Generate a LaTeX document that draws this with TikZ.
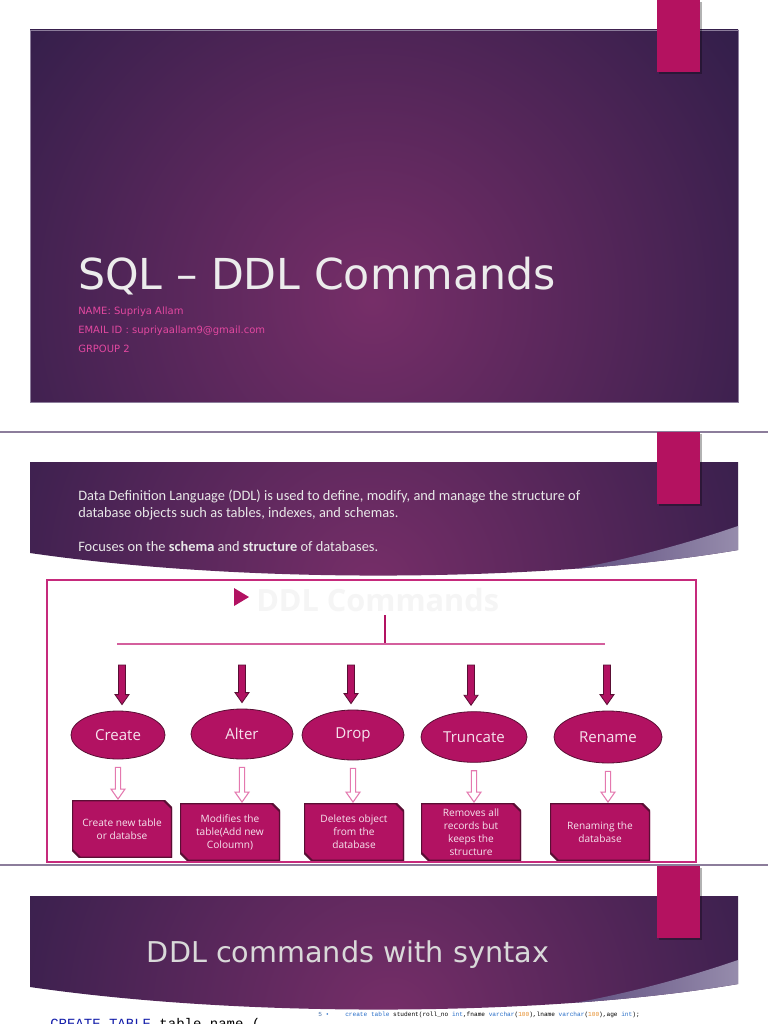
\documentclass[tikz,border=0pt]{standalone}
\usepackage{fontspec}
\setmainfont{DejaVu Sans}
\setmonofont{Liberation Mono}
\newfontfamily\bodyfont{Carlito}
\newfontfamily\shapefont{Open Sans}
\usetikzlibrary{calc,shapes.geometric}

\definecolor{deepnavy}{RGB}{32,26,66}
\definecolor{glowpurple}{RGB}{118,46,104}
\definecolor{tabpink}{RGB}{180,18,96}
\definecolor{namepink}{RGB}{226,72,160}
\definecolor{titlegrey}{RGB}{236,236,236}
\definecolor{bodygrey}{RGB}{232,232,232}
\definecolor{framepink}{RGB}{198,42,124}
\definecolor{boxpink}{RGB}{178,18,98}
\definecolor{boxedge}{RGB}{90,14,52}
\definecolor{shapetext}{RGB}{246,228,238}
\definecolor{hollowpink}{RGB}{228,120,175}
\definecolor{sepgrey}{RGB}{140,125,155}
\definecolor{wedgeleft}{RGB}{88,70,122}
\definecolor{wedgeright}{RGB}{150,140,172}
\definecolor{sqlblue}{RGB}{20,30,170}
\definecolor{kwblue}{RGB}{40,110,200}
\definecolor{numorange}{RGB}{230,140,40}

\tikzset{nameline/.style={anchor=base west, inner sep=0, text=namepink, font=\fontsize{7.5}{9}\selectfont}}
\tikzset{bodytext/.style={anchor=base west, inner sep=0, text=bodygrey, align=left, font=\bodyfont\fontsize{10.8}{12.75}\selectfont}}
\tikzset{cmd/.style={ellipse, fill=boxpink, draw=boxedge, line width=.6pt, inner sep=0, text=shapetext, font=\shapefont\fontsize{11.3}{13}\selectfont}}
\tikzset{snipbox/.style={minimum width=75pt, minimum height=43pt, inner sep=1pt, align=center, text=shapetext,
    font=\shapefont\fontsize{7.6}{9.75}\selectfont,
    path picture={\fill[boxpink, draw=boxedge, line width=1.6pt]
      (path picture bounding box.north west) -- ([xshift=-6pt]path picture bounding box.north east)
      -- ([yshift=-6pt]path picture bounding box.north east) -- (path picture bounding box.south east)
      -- ([xshift=6pt]path picture bounding box.south west) -- ([yshift=6pt]path picture bounding box.south west) -- cycle;}}}
\tikzset{blkarrow/.style={fill=boxpink, draw=boxedge, line width=.6pt}}
\tikzset{hollowarrow/.style={fill=white, draw=hollowpink, line width=.8pt}}
\tikzset{branch/.style={draw=framepink!75!white, line width=.8pt}}
\tikzset{tabshade/.style={fill=black, opacity=.3}}

% down arrow as a block: style, start, end, half shaft
\newcommand{\dnarrow}[4]{%
  \draw[#1] let \p1=(#2), \p2=(#3) in
    (\x1-#4,\y1) -- (\x1-#4,\y2+7.5pt) -- (\x1-5.25pt,\y2+7.5pt) -- (\x1,\y2)
    -- (\x1+5.25pt,\y2+7.5pt) -- (\x1+#4,\y2+7.5pt) -- (\x1+#4,\y1) -- cycle;}

% curved header band of a slide, shifted down by #1, glow at x #2
\newcommand{\slideband}[2]{%
  \begin{scope}[shift={(0,#1)}]
    \clip (30,462) -- (738,462) -- (738,550) .. controls (550,582) and (250,585) .. (30,553) -- cycle;
    \shade[inner color=glowpurple, outer color=deepnavy] (#2,585) circle (560);
    \shade[left color=wedgeleft, right color=wedgeright] (738,526) .. controls (680,546) and (610,564) .. (550,573) -- (550,600) -- (738,600) -- cycle;
  \end{scope}}

\begin{document}
\begin{tikzpicture}[x=0.75pt, y=-0.75pt]
\useasboundingbox (0,0) rectangle (768,1024);
\fill[white] (0,0) rectangle (768,1024);

% title slide
\begin{scope}
  \clip (30,30) rectangle (738,402);
  \shade[inner color=glowpurple, outer color=deepnavy] (372,300) circle (580);
\end{scope}
\draw[sepgrey, line width=.4pt] (30,30) rectangle (738,402);
\node[anchor=base west, inner sep=0, text=titlegrey, font=\fontsize{32}{38}\selectfont] (title) at (78,289) {SQL – DDL Commands};
\node[nameline] (name) at (78,314) {NAME: Supriya Allam};
\node[nameline] (email) at (78,333) {EMAIL ID : supriyaallam9@gmail.com};
\node[nameline] (group) at (78,352) {GRPOUP 2};

% page breaks
\draw[sepgrey, line width=.8pt] (0,432) -- (768,432);
\draw[sepgrey, line width=.8pt] (0,865) -- (768,865);

% second slide
\slideband{0}{370}
\node[bodytext] (intro) at (78,517) {Data Definition Language (DDL) is used to define, modify, and manage the structure of\\database objects such as tables, indexes, and schemas.};
\node[bodytext] (focus) at (78,551) {Focuses on the \textbf{schema} and \textbf{structure} of databases.};

% diagram
\draw[framepink, fill=white, line width=1.1pt] (47,580) rectangle (696,862);
\fill[boxpink] (234,588) -- (249,597) -- (234,606) -- cycle;
\node[anchor=base west, inner sep=0, text=white!96!black, font=\shapefont\bfseries\fontsize{23}{26}\selectfont] (ddlhead) at (256,611) {DDL Commands};
\coordinate (stem) at (385,615);
\coordinate (hub) at (385,644);
\coordinate (hl) at (117,644);
\coordinate (hr) at (605,644);
\draw[branch, draw=boxpink] (stem) -- (hub);
\draw[branch] (hl) -- (hr);

\foreach \nm/\px/\py/\w/\h/\ax in {Create/118/735/70.5/36/122, Alter/242/734/76.5/37.5/242, Drop/353/735/76.5/37.5/351, Truncate/474/737/79.5/38/471, Rename/608/737/81/39/607}{
  \node[cmd, minimum width=\w pt, minimum height=\h pt] (c\nm) at (\px,\py) {\nm};
  \coordinate (a\nm) at (\ax,665);
  \dnarrow{blkarrow}{a\nm}{$(c\nm.north)+(0,-6)$}{2.6pt}
}

\foreach \nm/\px/\py/\txt in {Create/122/829/{Create new table\\or databse}, Alter/230/832/{Modifies the\\table(Add new\\Coloumn)}, Drop/354/832/{Deletes object\\from the\\database}, Truncate/471/832/{Removes all\\records but\\keeps the\\structure}, Rename/600/832/{Renaming the\\database}}{
  \node[snipbox] (b\nm) at (\px,\py) {\txt};
  \dnarrow{hollowarrow}{$(c\nm.south)+(0,8)$}{$(b\nm.north)+(0,-1)$}{2pt}
}

% third slide
\slideband{434}{390}
\node[text=titlegrey!92!black, font=\fontsize{21.5}{26}\selectfont] (syntax) at (348,955) {DDL commands with syntax};
\node[anchor=base west, inner sep=0, font=\ttfamily\fontsize{10.5}{12}\selectfont] (createsql) at (50,1028) {\textcolor{sqlblue}{CREATE TABLE} table\_name (};
\node[anchor=base west, inner sep=0, font=\ttfamily\fontsize{4.6}{5}\selectfont] (lineno) at (318,1016) {\textcolor{kwblue!60!gray}{5} \textcolor{kwblue}{•}};
\node[anchor=base west, inner sep=0, font=\ttfamily\fontsize{4.6}{5}\selectfont] (sqlline) at (345,1016) {\textcolor{kwblue}{create table} student(roll\_no \textcolor{kwblue}{int},fname \textcolor{kwblue}{varchar}(\textcolor{numorange}{100}),lname \textcolor{kwblue}{varchar}(\textcolor{numorange}{100}),age \textcolor{kwblue}{int});};

% tabs
\foreach \ty in {0,432,866}{
  \fill[tabshade] (659,\ty+2) rectangle (702,\ty+74);
  \fill[tabpink] (657,\ty) rectangle (700,\ty+72);
}
\end{tikzpicture}
\end{document}
